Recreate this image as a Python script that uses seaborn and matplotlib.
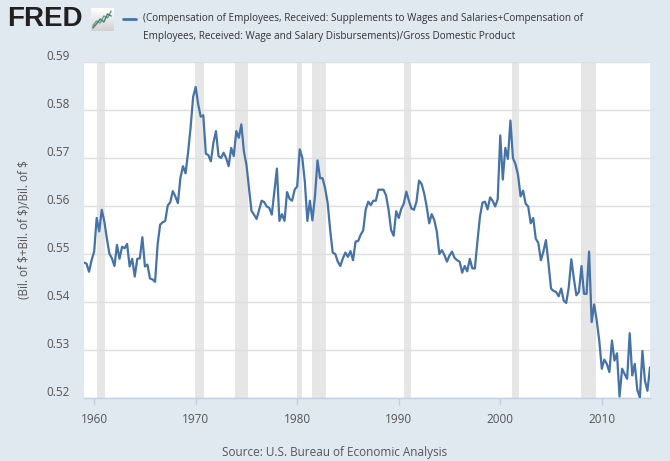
import numpy as np
import pandas as pd
import matplotlib
matplotlib.use("Agg")
import matplotlib.pyplot as plt
import matplotlib.dates as mdates
import matplotlib.transforms as mtransforms
import seaborn as sns

# ---------------- data (quarterly, 1959Q1 .. 2014Q4) ----------------
start_date = "1959-01-01"
values_1959_1969 = [0.5482, 0.5480, 0.5463, 0.5487,
                    0.5505, 0.5575, 0.5547, 0.5592,
                    0.5568, 0.5533, 0.5501, 0.5491,
                    0.5475, 0.5519, 0.5490, 0.5515,
                    0.5512, 0.5521, 0.5474, 0.5490,
                    0.5453, 0.5490, 0.5491, 0.5535,
                    0.5474, 0.5478, 0.5449, 0.5447,
                    0.5442, 0.5519, 0.5561, 0.5566,
                    0.5569, 0.5601, 0.5608, 0.5631,
                    0.5620, 0.5606, 0.5659, 0.5683,
                    0.5668, 0.5711, 0.5763, 0.5827]
values_1970_1979 = [0.5848, 0.5812, 0.5786, 0.5789,
                    0.5709, 0.5706, 0.5693, 0.5732,
                    0.5756, 0.5704, 0.5700, 0.5711,
                    0.5700, 0.5683, 0.5721, 0.5704,
                    0.5756, 0.5742, 0.5770, 0.5714,
                    0.5686, 0.5638, 0.5590, 0.5582,
                    0.5573, 0.5592, 0.5611, 0.5608,
                    0.5599, 0.5596, 0.5582, 0.5631,
                    0.5678, 0.5569, 0.5583, 0.5569,
                    0.5629, 0.5615, 0.5611, 0.5634]
values_1980_1989 = [0.5641, 0.5718, 0.5701, 0.5651,
                    0.5569, 0.5611, 0.5570, 0.5620,
                    0.5695, 0.5658, 0.5658, 0.5637,
                    0.5606, 0.5550, 0.5503, 0.5500,
                    0.5484, 0.5475, 0.5491, 0.5503,
                    0.5494, 0.5506, 0.5487, 0.5526,
                    0.5527, 0.5540, 0.5549, 0.5593,
                    0.5609, 0.5602, 0.5611, 0.5611,
                    0.5634, 0.5634, 0.5634, 0.5622,
                    0.5592, 0.5550, 0.5538, 0.5589]
values_1990_1999 = [0.5575, 0.5594, 0.5605, 0.5630,
                    0.5611, 0.5595, 0.5592, 0.5609,
                    0.5653, 0.5646, 0.5627, 0.5599,
                    0.5564, 0.5583, 0.5571, 0.5547,
                    0.5500, 0.5508, 0.5498, 0.5484,
                    0.5497, 0.5505, 0.5492, 0.5487,
                    0.5484, 0.5461, 0.5475, 0.5464,
                    0.5490, 0.5470, 0.5470, 0.5526,
                    0.5578, 0.5607, 0.5609, 0.5593,
                    0.5618, 0.5611, 0.5599, 0.5614]
values_2000_2009 = [0.5747, 0.5655, 0.5721, 0.5698,
                    0.5778, 0.5700, 0.5687, 0.5665,
                    0.5620, 0.5632, 0.5605, 0.5599,
                    0.5564, 0.5575, 0.5532, 0.5523,
                    0.5487, 0.5505, 0.5529, 0.5480,
                    0.5428, 0.5423, 0.5421, 0.5412,
                    0.5428, 0.5403, 0.5398, 0.5431,
                    0.5489, 0.5449, 0.5414, 0.5421,
                    0.5475, 0.5417, 0.5417, 0.5505,
                    0.5358, 0.5395, 0.5362, 0.5320]
values_2010_2014 = [0.5261, 0.5280, 0.5271, 0.5254,
                    0.5320, 0.5278, 0.5293, 0.5203,
                    0.5261, 0.5250, 0.5240, 0.5335,
                    0.5247, 0.5271, 0.5217, 0.5201,
                    0.5298, 0.5236, 0.5215, 0.5264]

recession_starts = ["1960-04-01", "1969-12-01", "1973-11-01", "1980-01-01",
                    "1981-07-01", "1990-07-01", "2001-03-01", "2007-12-01"]
recession_ends = ["1961-02-01", "1970-11-01", "1975-03-01", "1980-07-01",
                  "1982-11-01", "1991-03-01", "2001-11-01", "2009-06-01"]

y_ticks = [0.52, 0.53, 0.54, 0.55, 0.56, 0.57, 0.58, 0.59]
x_tick_years = [1960, 1970, 1980, 1990, 2000, 2010]

series_name = ("(Compensation of Employees, Received: Supplements to Wages and Salaries+Compensation of\n"
               "Employees, Received: Wage and Salary Disbursements)/Gross Domestic Product")
y_label = "(Bil. of $+Bil. of $)/Bil. of $"
source_text = "Source: U.S. Bureau of Economic Analysis"

# ---------------- build frame ----------------
values = (values_1959_1969 + values_1970_1979 + values_1980_1989 +
          values_1990_1999 + values_2000_2009 + values_2010_2014)
dates = pd.date_range(start_date, periods=len(values), freq="QS")
df = pd.DataFrame({"date": dates, "value": values})

# ---------------- style ----------------
BG = "#e1e9f0"
LINE = "#4572a7"
sns.set_theme(style="white")
plt.rcParams["font.family"] = ["Open Sans", "DejaVu Sans"]

W, H = 670, 461
fig = plt.figure(figsize=(W / 100, H / 100), dpi=100, facecolor=BG)
L, R, T, B = 84, 650, 62, 398
ax = fig.add_axes([L / W, 1 - B / H, (R - L) / W, (B - T) / H])
ax.set_facecolor("white")

# recession shading
for s, e in zip(recession_starts, recession_ends):
    ax.axvspan(pd.Timestamp(s), pd.Timestamp(e), color="#e6e6e6", lw=0, zorder=0.5)

sns.lineplot(data=df, x="date", y="value", ax=ax, color=LINE, linewidth=1.6, zorder=3)

ax.set_xlim(dates[0], dates[-1])
ax.set_ylim(0.52, 0.59)
ax.set_yticks(y_ticks)
ax.set_yticklabels([f"{v:.2f}" for v in y_ticks])
ax.yaxis.grid(True, color="#dedede", linewidth=1, zorder=1)
ax.xaxis.grid(False)
ax.set_axisbelow(True)

ax.set_xticks([pd.Timestamp(f"{y}-01-01") for y in x_tick_years])
ax.xaxis.set_major_formatter(mdates.DateFormatter("%Y"))

for side in ["top", "right", "left"]:
    ax.spines[side].set_visible(False)
ax.spines["bottom"].set_color("#c0d0e0")
ax.spines["bottom"].set_linewidth(1)

ax.tick_params(axis="x", length=5, width=1, color="#c0d0e0", labelsize=8.5,
               labelcolor="#555555", pad=6, direction="out", bottom=True)
ax.tick_params(axis="y", length=0, labelsize=8.5, labelcolor="#555555", pad=10)
offset = mtransforms.ScaledTranslation(0, 5.5 / 100, fig.dpi_scale_trans)
for lab in ax.get_yticklabels():
    lab.set_verticalalignment("center")
    lab.set_transform(lab.get_transform() + offset)

ax.set_xlabel("")
ax.set_ylabel(y_label, fontsize=8.5, color="#555555")
ax.yaxis.set_label_coords(-(L - 31) / (R - L), 0.5)

# ---------------- header: FRED logo + legend ----------------
fig.text(7 / W, 1 - 19.5 / H, "FRED", fontsize=20, fontweight="bold",
         family=["Liberation Sans", "DejaVu Sans"], color="#231f20",
         va="center", ha="left")
icon = fig.add_axes([91 / W, 1 - 31 / H, 22 / W, 23 / H])
icon.imshow(np.linspace(1.0, 0.82, 32).reshape(-1, 1), cmap="gray", vmin=0, vmax=1,
            aspect="auto", extent=(-0.5, 5.5, 0, 4.6), zorder=0)
icon.plot([0, 1, 2, 3, 4, 5], [1.0, 2.0, 1.6, 3.0, 2.6, 4.0], color="#6aa84f", lw=1)
icon.plot([0, 1, 2, 3, 4, 5], [0.6, 1.4, 2.4, 1.8, 3.4, 3.0], color="#4572a7", lw=1)
icon.set_xlim(-0.5, 5.5)
icon.set_ylim(0, 4.6)
icon.set_xticks([])
icon.set_yticks([])
for sp in icon.spines.values():
    sp.set_visible(False)

fig.lines.append(plt.Line2D([123 / W, 136 / W], [1 - 19 / H, 1 - 19 / H],
                            transform=fig.transFigure, color=LINE, lw=2))
fig.text(143 / W, 1 - 27.5 / H, series_name, fontsize=7.2, color="#333333",
         va="center", ha="left", linespacing=1.75)

fig.text(0.5, 1 - 452 / H, source_text, fontsize=8.5, color="#555555",
         ha="center", va="center")

fig.savefig("out.png", dpi=100, facecolor=BG)
